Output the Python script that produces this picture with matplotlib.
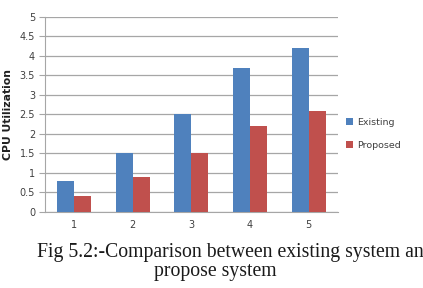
import numpy as np
import matplotlib
matplotlib.use('Agg')
import matplotlib.pyplot as plt

categories = [1, 2, 3, 4, 5]
existing = [0.8, 1.5, 2.5, 3.7, 4.2]
proposed = [0.4, 0.9, 1.5, 2.2, 2.6]
yticks = [0, 0.5, 1, 1.5, 2, 2.5, 3, 3.5, 4, 4.5, 5]

fig = plt.figure(figsize=(4.23, 2.88), dpi=100)
ax = fig.add_axes([0.106, 0.264, 0.693, 0.677])

x = np.arange(len(categories)) + 1
w = 0.29
ax.bar(x - w/2, existing, w, color='#4F81BD', label='Existing', zorder=3)
ax.bar(x + w/2, proposed, w, color='#C0504D', label='Proposed', zorder=3)

ax.set_xlim(0.5, 5.5)
ax.set_ylim(0, 5)
ax.set_yticks(yticks)
ax.set_yticklabels([f'{t:g}' for t in yticks])
ax.set_xticks(x)
ax.set_xticklabels([str(c) for c in categories])
ax.grid(axis='y', color='#A6A6A6', linewidth=0.9, zorder=0)
for s in ['top', 'right']:
    ax.spines[s].set_visible(False)
ax.spines['left'].set_color('#A6A6A6')
ax.spines['bottom'].set_color('#A6A6A6')
ax.tick_params(axis='y', length=4, color='#A6A6A6', labelsize=7, labelcolor='#404040', pad=3)
ax.tick_params(axis='x', length=0, labelsize=7, labelcolor='#404040', pad=6)
ax.set_ylabel('CPU Utilization', fontsize=7.8, fontweight='bold', color='#202020', labelpad=5)

ax.legend(loc='center left', bbox_to_anchor=(1.0, 0.4), frameon=False, fontsize=6.8,
          handlelength=0.7, handleheight=0.7, handletextpad=0.4, labelspacing=1.5,
          labelcolor='#404040')

fig.text(0.0875, 0.125, 'Fig 5.2:-Comparison between existing system an',
         ha='left', va='center', fontsize=14.2, family='Liberation Serif', color='#1a1a1a')
fig.text(0.508, 0.059, 'propose system',
         ha='center', va='center', fontsize=14.2, family='Liberation Serif', color='#1a1a1a')

fig.savefig('out.png', dpi=100)
